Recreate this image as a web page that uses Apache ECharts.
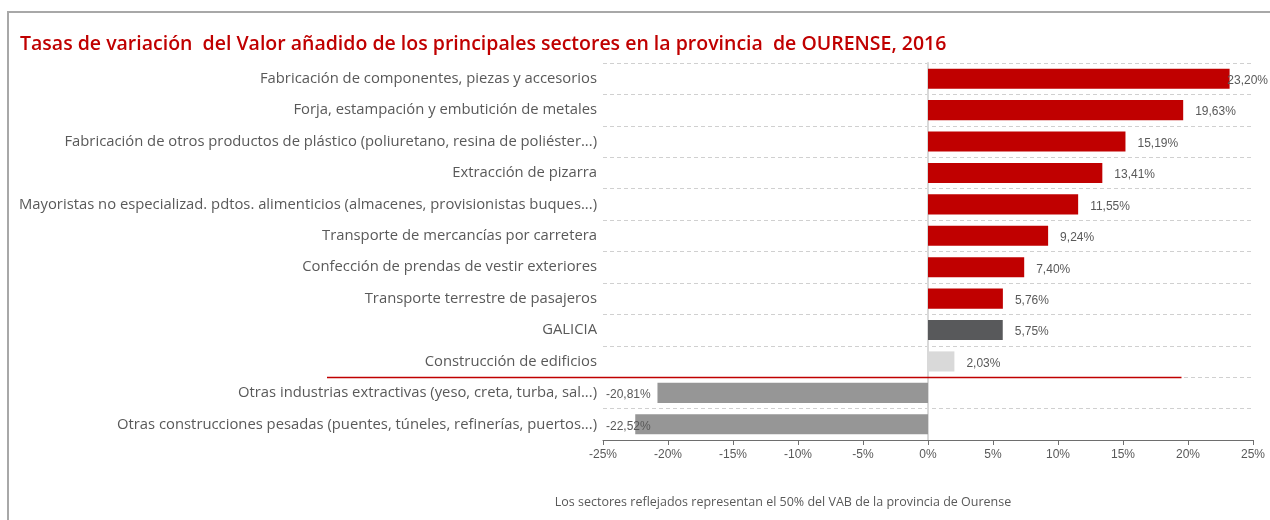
<!DOCTYPE html>
<html>
<head>
<meta charset="utf-8">
<title>VAB Ourense 2016</title>
<script src="https://cdn.jsdelivr.net/npm/echarts@6/dist/echarts.min.js"></script>
<style>
  html, body { margin: 0; padding: 0; background: #fff; }
  #chart { width: 1270px; height: 520px; }
</style>
</head>
<body>
<div id="chart"></div>
<script>
// Sectors, top to bottom
const sectors = [
    'Fabricación de componentes, piezas y accesorios',
    'Forja, estampación y embutición de metales',
    'Fabricación de otros productos de plástico (poliuretano, resina de poliéster...)',
    'Extracción de pizarra',
    'Mayoristas no especializad. pdtos. alimenticios (almacenes, provisionistas buques...)',
    'Transporte de mercancías por carretera',
    'Confección de prendas de vestir exteriores',
    'Transporte terrestre de pasajeros',
    'GALICIA',
    'Construcción de edificios',
    'Otras industrias extractivas (yeso, creta, turba, sal...)',
    'Otras construcciones pesadas (puentes, túneles, refinerías, puertos...)'
];

// Variation rates, %
const rates = [23.20, 19.63, 15.19, 13.41, 11.55, 9.24, 7.40, 5.76, 5.75, 2.03, -20.81, -22.52];

// x axis ticks
const axisMin = -25;
const axisMax = 25;
const axisStep = 5;

const TITLE = 'Tasas de variación  del Valor añadido de los principales sectores en la provincia  de OURENSE, 2016';
const NOTE = 'Los sectores reflejados representan el 50% del VAB de la provincia de Ourense';

const COLORS = {
    up: '#C00000',
    down: '#969696',
    galicia: '#58595B',
    light: '#D9D9D9',
    text: '#595959'
};

const FONT = 'Open Sans, Liberation Sans, sans-serif';

/**
 * Picks the bar colour for a sector.
 */
const barColor = (name, v) => {
    if (name === 'GALICIA') return COLORS.galicia;
    if (name === 'Construcción de edificios') return COLORS.light;
    return v < 0 ? COLORS.down : COLORS.up;
};

const fmt = (v) => v.toFixed(2).replace('.', ',') + '%';

const chart = echarts.init(document.getElementById('chart'));

chart.setOption({
    animation: false,
    textStyle: { fontFamily: FONT },
    title: {
        text: TITLE, left: 15, top: 29,
        textStyle: { color: '#C00000', fontSize: 19.5, fontWeight: 600, fontFamily: FONT }
    },
    grid: { left: 603, right: 17, top: 63, bottom: 80, containLabel: false },
    xAxis: {
        type: 'value', min: axisMin, max: axisMax, interval: axisStep,
        axisLine: { show: true, onZero: false, lineStyle: { color: '#6E6E6E', width: 1 } },
        axisTick: { show: true, length: 5, lineStyle: { color: '#6E6E6E' } },
        axisLabel: { color: COLORS.text, fontSize: 12, margin: 9, formatter: '{value}%', fontFamily: 'Liberation Sans' },
        splitLine: { show: false }
    },
    yAxis: {
        type: 'category', data: sectors, inverse: true,
        axisLine: { show: true, onZero: true, lineStyle: { color: '#D9D9D9', width: 2 } },
        axisTick: { show: false },
        axisLabel: { color: COLORS.text, fontSize: 14.8, margin: 6 },
        splitLine: { show: true, lineStyle: { color: '#D0D0D0', type: [4, 3], width: 1 } }
    },
    series: [{
        type: 'bar',
        barCategoryGap: '36%',
        data: rates.map((v, i) => ({ value: v, itemStyle: { color: barColor(sectors[i], v) } })),
        label: { show: false },
        z: 2
    }, {
        // value labels: positives after the bar, negatives pinned to the left edge
        type: 'custom',
        data: rates.map((v, i) => [v, i]),
        encode: { x: 0, y: 1 },
        z: 5,
        renderItem: (params, api) => {
            const v = api.value(0);
            const i = api.value(1);
            const p = api.coord([v, i]);
            let x, align = 'left';
            if (v < 0) {
                x = api.coord([axisMin, i])[0] + 3;
            } else {
                x = p[0] + 12;
                const edge = api.getWidth() - 2;
                if (x + 44 > edge) { x = edge; align = 'right'; }
            }
            return {
                type: 'text',
                x: x, y: p[1] + 2,
                style: {
                    text: fmt(v), fill: COLORS.text, fontSize: 12,
                    fontFamily: 'Liberation Sans', align: align, verticalAlign: 'middle'
                }
            };
        }
    }]
});

// frame, red separator between gains and losses, footnote
const yA = chart.convertToPixel({ yAxisIndex: 0 }, 9);
const yB = chart.convertToPixel({ yAxisIndex: 0 }, 10);
const sepY = Math.round((yA + yB) / 2) + 0.5;
const sepX = chart.convertToPixel({ xAxisIndex: 0 }, 19.5);

chart.setOption({
    graphic: [
        {
            type: 'rect', shape: { x: 8, y: 12, width: 1400, height: 700 },
            style: { fill: null, stroke: '#A8A8A8', lineWidth: 2 }, silent: true
        },
        {
            type: 'line', shape: { x1: 327, y1: sepY, x2: sepX, y2: sepY },
            style: { stroke: '#C00000', lineWidth: 1.5 }, z: 10
        },
        {
            type: 'text', x: 783, y: 502,
            style: { text: NOTE, fill: COLORS.text, fontSize: 12.5, fontFamily: FONT, align: 'center', verticalAlign: 'middle' }
        }
    ]
});

window.addEventListener('resize', () => chart.resize());
</script>
</body>
</html>
